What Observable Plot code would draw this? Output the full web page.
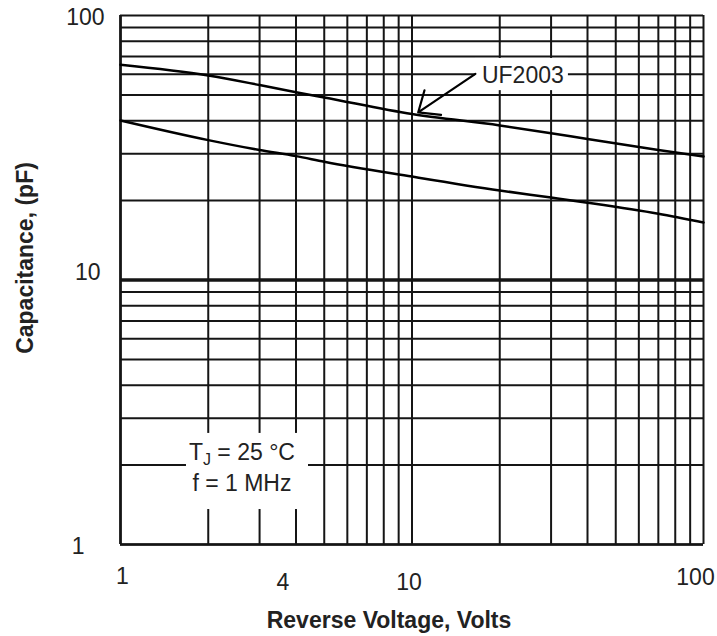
<!DOCTYPE html>
<html>
<head>
<meta charset="utf-8">
<script src="https://cdn.jsdelivr.net/npm/d3@7"></script>
<script src="https://cdn.jsdelivr.net/npm/@observablehq/plot@0.6"></script>
<style>
  html, body { margin: 0; padding: 0; background: #fff; }
</style>
</head>
<body>
<div id="chart"></div>
<script>
// ---- data ----
const voltageUpper = [1, 2, 3, 4, 5, 10, 20, 30, 40, 70, 100];
const capUpper     = [65.1, 59.3, 54.6, 51.3, 49.0, 42.4, 38.4, 35.9, 34.1, 31.0, 29.3];
const voltageLower = [1, 2, 3, 4, 5, 10, 20, 30, 40, 70, 100];
const capLower     = [40.1, 33.8, 31.0, 29.4, 28.0, 24.6, 21.8, 20.5, 19.6, 17.8, 16.5];

const xGrid = [1, 2, 3, 4, 5, 6, 7, 8, 9, 10, 20, 30, 40, 50, 60, 70, 80, 90, 100];
const yGrid = [1, 2, 3, 4, 5, 6, 7, 8, 9, 10, 20, 30, 40, 50, 60, 70, 80, 90, 100];

const xTitle = "Reverse Voltage, Volts";
const yTitle = "Capacitance, (pF)";
const seriesLabel = "UF2003";
const condLine1 = "TJ = 25 °C";
const condLine2 = "f = 1 MHz";

// annotation anchors, in data units (volts, pF)
const seriesLabelAt = [24.0, 59.0];
const arrowFrom = [16.5, 60.2];
const arrowTo = [10.5, 43.0];
const seriesMask = [16.5, 34.4, 52.0, 68.8];   // x1, x2, y1, y2
const condLabelX = 2.61;
const condLine1Y = 2.23;
const condLine2Y = 1.70;
const condMask = [1.684, 4.415, 1.356, 2.63];  // x1, x2, y1, y2

const upper = voltageUpper.map((v, i) => ({v, c: capUpper[i]}));
const lower = voltageLower.map((v, i) => ({v, c: capLower[i]}));
const masks = [
  {x1: seriesMask[0], x2: seriesMask[1], y1: seriesMask[2], y2: seriesMask[3]},
  {x1: condMask[0], x2: condMask[1], y1: condMask[2], y2: condMask[3]}
];

const gridColor = "#151515";
const textColor = "#222";
const fmt = d => `${d}`;

const plot = Plot.plot({
  width: 717,
  height: 636,
  marginLeft: 120,
  marginRight: 14,
  marginTop: 15,
  marginBottom: 92,
  style: {
    fontFamily: "'Liberation Sans', Arial, Helvetica, sans-serif",
    fontSize: "23px",
    color: textColor,
    background: "#fff",
    overflow: "visible"
  },
  x: {type: "log", domain: [1, 100], axis: null},
  y: {type: "log", domain: [1, 100], axis: null},
  marks: [
    // grid
    Plot.ruleX(xGrid, {stroke: gridColor, strokeWidth: 2}),
    Plot.ruleY(yGrid, {stroke: gridColor, strokeWidth: 2}),
    Plot.ruleY([10], {stroke: gridColor, strokeWidth: 3.5}),
    Plot.ruleX([1], {stroke: gridColor, strokeWidth: 2.6}),
    Plot.ruleY([1], {stroke: gridColor, strokeWidth: 2.6}),
    // white boxes behind annotations
    Plot.rect(masks, {x1: "x1", x2: "x2", y1: "y1", y2: "y2", fill: "#fff"}),
    // curves
    Plot.line(upper, {x: "v", y: "c", stroke: "#000", strokeWidth: 2.5, curve: "monotone-x"}),
    Plot.line(lower, {x: "v", y: "c", stroke: "#000", strokeWidth: 2.5, curve: "monotone-x"}),
    // annotation arrow + labels
    Plot.arrow([{}], {
      x1: () => arrowFrom[0], y1: () => arrowFrom[1],
      x2: () => arrowTo[0], y2: () => arrowTo[1],
      stroke: "#000", strokeWidth: 2.2, headLength: 18, headAngle: 80, inset: 0
    }),
    Plot.text([seriesLabel], {x: () => seriesLabelAt[0], y: () => seriesLabelAt[1], text: d => d, fill: textColor, fontSize: 23}),
    Plot.text([condLine1], {x: () => condLabelX, y: () => condLine1Y, text: d => d, fill: textColor, fontSize: 23}),
    Plot.text([condLine2], {x: () => condLabelX, y: () => condLine2Y, text: d => d, fill: textColor, fontSize: 23}),
    // x tick labels
    Plot.axisX([1], {tickSize: 0, tickPadding: 23, dx: 2, tickFormat: fmt, label: null, fill: textColor}),
    Plot.text([4], {x: d => d, frameAnchor: "bottom", lineAnchor: "top", textAnchor: "middle", dy: 29, dx: -13, text: fmt, fill: textColor, fontSize: 23}),
    Plot.axisX([10], {tickSize: 0, tickPadding: 29, dx: -3, tickFormat: fmt, label: null, fill: textColor}),
    Plot.axisX([100], {tickSize: 0, tickPadding: 24, dx: -8, tickFormat: fmt, label: null, fill: textColor}),
    // y tick labels
    Plot.axisY([100], {tickSize: 0, tickPadding: 16, dy: 2, tickFormat: fmt, label: null, fill: textColor}),
    Plot.axisY([10], {tickSize: 0, tickPadding: 20, dy: -7, tickFormat: fmt, label: null, fill: textColor}),
    Plot.axisY([1], {tickSize: 0, tickPadding: 36, dy: 2, tickFormat: fmt, label: null, fill: textColor}),
    // axis titles
    Plot.text([xTitle], {frameAnchor: "bottom", textAnchor: "middle", lineAnchor: "middle", dx: -23, dy: 76, text: d => d, fontWeight: "bold", fontSize: 23, fill: textColor}),
    Plot.text([yTitle], {frameAnchor: "left", textAnchor: "middle", lineAnchor: "middle", rotate: -90, dx: -95, dy: -22, text: d => d, fontWeight: "bold", fontSize: 23, fill: textColor})
  ]
});

// make the "J" in TJ a subscript
plot.querySelectorAll("text").forEach(t => {
  if (t.textContent === condLine1) {
    while (t.firstChild) t.removeChild(t.firstChild);
    const ns = "http://www.w3.org/2000/svg";
    t.appendChild(document.createTextNode(condLine1.slice(0, 1)));
    const sub = document.createElementNS(ns, "tspan");
    sub.setAttribute("dy", "5");
    sub.setAttribute("font-size", "16");
    sub.textContent = condLine1.slice(1, 2);
    t.appendChild(sub);
    const rest = document.createElementNS(ns, "tspan");
    rest.setAttribute("dy", "-5");
    rest.textContent = condLine1.slice(2);
    t.appendChild(rest);
  }
});

document.getElementById("chart").appendChild(plot);
</script>
</body>
</html>
